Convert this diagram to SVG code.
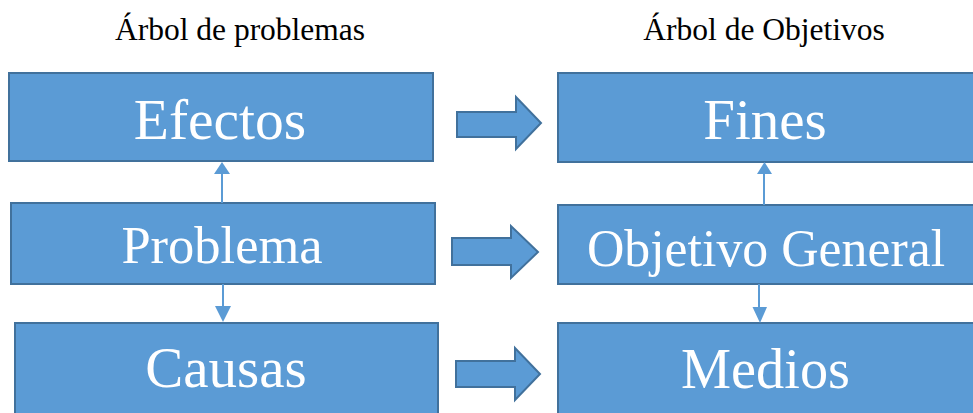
<svg xmlns="http://www.w3.org/2000/svg" width="973" height="413" viewBox="0 0 973 413">
<style>
.box{fill:#5B9BD5;stroke:#41719C;stroke-width:2}
.lbl{font-family:'Liberation Serif',serif;fill:#FFFFFF;text-anchor:middle}
.ttl{font-family:'Liberation Serif',serif;fill:#000000;text-anchor:middle;font-size:31.5px}
.big{fill:#5B9BD5;stroke:#41719C;stroke-width:2}
.ln{stroke:#5B9BD5;stroke-width:2;fill:none}
.hd{fill:#5B9BD5}
</style>
<rect width="973" height="413" fill="#FFFFFF"/>
<text class="ttl" x="240" y="40">Árbol de problemas</text>
<text class="ttl" x="764" y="40">Árbol de Objetivos</text>
<g id="efectos"><rect class="box" x="9" y="73" width="424" height="88"/><text class="lbl" x="220" y="139" font-size="57.5">Efectos</text></g>
<g id="problema"><rect class="box" x="11" y="203" width="424" height="81"/><text class="lbl" x="222" y="263" font-size="52.5">Problema</text></g>
<g id="causas"><rect class="box" x="15" y="323" width="423" height="100"/><text class="lbl" x="226" y="387" font-size="57">Causas</text></g>
<g id="fines"><rect class="box" x="558" y="73" width="420" height="89"/><text class="lbl" x="765" y="139" font-size="57">Fines</text></g>
<g id="objetivo"><rect class="box" x="558" y="205" width="420" height="79"/><text class="lbl" x="766" y="266" font-size="51.8">Objetivo General</text></g>
<g id="medios"><rect class="box" x="558" y="323" width="420" height="100"/><text class="lbl" x="765.5" y="388" font-size="56.3">Medios</text></g>
<g id="connectors">
<line class="ln" x1="222" y1="203" x2="222" y2="174"/><polygon class="hd" points="214,174 230,174 222,162"/>
<line class="ln" x1="223" y1="284" x2="223" y2="306"/><polygon class="hd" points="215,306 231,306 223,322"/>
<line class="ln" x1="764" y1="205" x2="764" y2="174"/><polygon class="hd" points="757,174 772,174 764.5,162"/>
<line class="ln" x1="759" y1="284" x2="759" y2="307"/><polygon class="hd" points="752.5,307 767,307 760,323"/>
<polygon class="big" points="457,112 516,112 516,97 541,123 516,149 516,137 457,137"/>
<polygon class="big" points="452,238 511,238 511,226 538,252 511,278 511,265 452,265"/>
<polygon class="big" points="456,361 515,361 515,348 540,374 515,400 515,387 456,387"/>
</g>
</svg>
